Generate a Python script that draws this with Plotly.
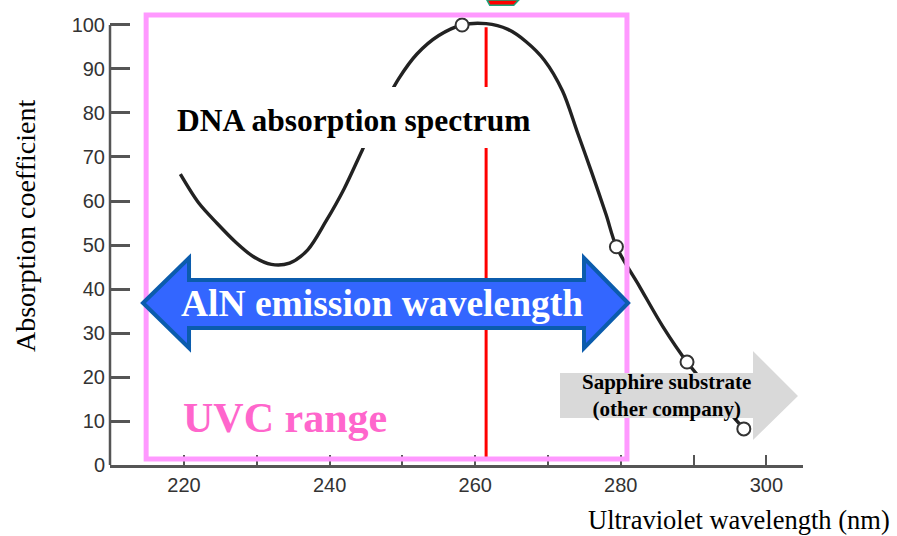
import plotly.graph_objects as go

# DNA absorption spectrum (wavelength in nm, relative absorption)
wavelength = [219.5, 222.0, 224.5, 227.0, 229.5, 232.0, 234.5, 237.0, 239.5,
              242.0, 244.5, 247.0, 249.5, 252.0, 255.0, 258.2, 261.5, 264.5,
              267.0, 269.5, 272.0, 274.0, 276.0, 278.0, 279.4, 282.6, 285.8,
              289.1, 296.9]
absorption = [66.1, 59.6, 55.0, 50.8, 47.4, 45.6, 45.9, 48.9, 55.4,
              62.8, 71.6, 80.2, 87.8, 93.4, 97.6, 100.0, 100.3, 99.0,
              96.2, 92.0, 85.0, 75.8, 66.5, 56.8, 49.6, 40.5, 31.4,
              23.4, 8.2]

# measured points shown as open circles
marked_wl = [258.2, 279.4, 289.1, 296.9]
marked_abs = [100.0, 49.6, 23.4, 8.2]

x_ticks = [220, 230, 240, 250, 260, 270, 280, 290, 300]
x_labels = ["220", "", "240", "", "260", "", "280", "", "300"]
y_ticks = [0, 10, 20, 30, 40, 50, 60, 70, 80, 90, 100]
y_labels = [str(v) for v in y_ticks]

peak_line_nm = 261.5
uvc_band = (214.8, 280.85)

X_RANGE = [209.835, 305.03]
Y_RANGE = [0, 105.68]

SERIF = "Liberation Serif"
SANS = "Liberation Sans"
AXIS_GREY = "#555555"

fig = go.Figure()

fig.add_trace(go.Scatter(
    x=wavelength, y=absorption, mode="lines",
    line=dict(color="#222222", width=3.4, shape="spline", smoothing=0.9),
    hoverinfo="skip", showlegend=False,
))
fig.add_trace(go.Scatter(
    x=marked_wl, y=marked_abs, mode="markers",
    marker=dict(size=13, color="white", line=dict(color="#333333", width=2)),
    showlegend=False,
))

shapes = []

# vertical y-axis line, only up to 100
shapes.append(dict(type="line", xref="paper", yref="y", x0=0, x1=0, y0=0, y1=100,
                   line=dict(color=AXIS_GREY, width=2.5), layer="below"))

# peak wavelength marker
shapes.append(dict(type="line", xref="x", yref="y", x0=peak_line_nm, x1=peak_line_nm,
                   y0=1.8, y1=99.5, line=dict(color="#ff0000", width=3), layer="above"))

# white backing behind the spectrum label
shapes.append(dict(type="rect", xref="x", yref="y", x0=216.7, x1=269.6, y0=72.05, y1=85.9,
                   fillcolor="white", line=dict(width=0), layer="above"))

# UVC band outline
shapes.append(dict(type="rect", xref="x", yref="y", x0=uvc_band[0], x1=uvc_band[1],
                   y0=1.36, y1=102.27, fillcolor="rgba(0,0,0,0)",
                   line=dict(color="#ff99ff", width=5), layer="above"))

# double-headed arrow for the AlN emission range
blue_arrow = ("M 214.37 36.82 L 220.69 47.05 L 220.69 42.05 L 274.95 42.05 "
              "L 274.95 47.05 L 281.0 36.82 L 274.95 26.59 L 274.95 31.14 "
              "L 220.69 31.14 L 220.69 26.59 Z")
shapes.append(dict(type="path", xref="x", yref="y", path=blue_arrow,
                   fillcolor="#3366ff", line=dict(color="#0b5cad", width=4), layer="above"))

# grey arrow pointing to the sapphire-substrate region
grey_arrow = ("M 271.65 20.91 L 298.16 20.91 L 298.16 25.91 L 304.34 15.68 "
              "L 298.16 5.68 L 298.16 10.68 L 271.65 10.68 Z")
shapes.append(dict(type="path", xref="x", yref="y", path=grey_arrow,
                   fillcolor="#d9d9d9", line=dict(width=0), layer="above"))

# small red marker at the top edge
red_tip = "M 261.6 105.7 L 266.0 105.7 L 265.3 104.5 L 262.0 104.5 Z"
shapes.append(dict(type="path", xref="x", yref="y", path=red_tip,
                   fillcolor="#ff0000", line=dict(color="#1aa37a", width=1.5), layer="above"))

annotations = [
    dict(x=243.35, y=78.4, xref="x", yref="y", text="<b>DNA absorption spectrum</b>",
         showarrow=False, font=dict(family=SERIF, size=31.5, color="black"),
         xanchor="center", yanchor="middle"),
    dict(x=247.2, y=36.8, xref="x", yref="y", text="<b>AlN emission wavelength</b>",
         showarrow=False, font=dict(family=SERIF, size=37.5, color="white"),
         xanchor="center", yanchor="middle"),
    dict(x=219.6, y=10.7, xref="x", yref="y", text="<b>UVC range</b>",
         showarrow=False, font=dict(family=SERIF, size=42, color="#ff66cc"),
         xanchor="left", yanchor="middle"),
    dict(x=286.3, y=15.8, xref="x", yref="y",
         text="<b>Sapphire substrate<br>(other company)</b>",
         showarrow=False, font=dict(family=SERIF, size=21, color="black"),
         xanchor="center", yanchor="middle"),
    dict(x=-0.1212, y=0.514, xref="paper", yref="paper", text="Absorption coefficient",
         textangle=-90, showarrow=False, font=dict(family=SERIF, size=28, color="black"),
         xanchor="center", yanchor="middle"),
    dict(x=1.128, y=-0.1183, xref="paper", yref="paper", text="Ultraviolet wavelength (nm)",
         showarrow=False, font=dict(family=SERIF, size=26.5, color="black"),
         xanchor="right", yanchor="middle"),
]

fig.update_layout(
    width=897, height=536,
    margin=dict(l=110, r=94, t=0, b=71),
    paper_bgcolor="white", plot_bgcolor="white",
    showlegend=False,
    shapes=shapes, annotations=annotations,
    xaxis=dict(range=X_RANGE, tickvals=x_ticks, ticktext=x_labels,
               ticks="inside", ticklen=10, tickwidth=2, tickcolor=AXIS_GREY,
               showline=True, linecolor=AXIS_GREY, linewidth=2.5,
               showgrid=False, zeroline=False,
               tickfont=dict(family=SANS, size=20, color="#333333")),
    yaxis=dict(range=Y_RANGE, tickvals=y_ticks, ticktext=y_labels,
               ticks="inside", ticklen=20, tickwidth=2.5, tickcolor=AXIS_GREY,
               showline=False, showgrid=False, zeroline=False,
               ticklabelstandoff=4,
               tickfont=dict(family=SANS, size=20, color="#333333")),
)

fig.write_html("out.html")
